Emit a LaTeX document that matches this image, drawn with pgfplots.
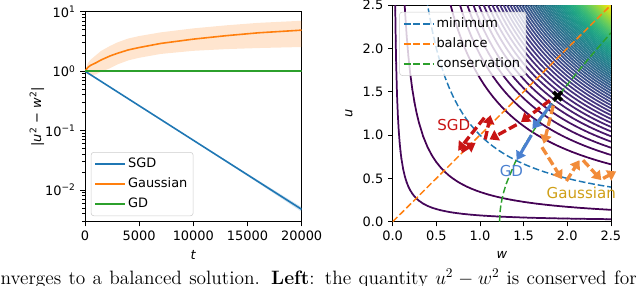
\documentclass[border=0pt]{standalone}
\usepackage{fontspec}
\setsansfont{DejaVu Sans}
\usepackage{pgfplots}
\pgfplotsset{compat=1.18}
\usepackage{pgfplotstable}
\usepgfplotslibrary{fillbetween}
\usetikzlibrary{arrows.meta}
\definecolor{mblue}{HTML}{1F77B4}
\definecolor{morange}{HTML}{FF7F0E}
\definecolor{mgreen}{HTML}{2CA02C}
\definecolor{sgdred}{HTML}{C81414}
\definecolor{gdblue}{HTML}{4A80D0}
\definecolor{gaorange}{HTML}{F28C3A}
\definecolor{galabel}{HTML}{CF9F17}
\definecolor{legframe}{HTML}{CCCCCC}
\newcommand\tf{\fontsize{9.7}{11.6}\selectfont\sffamily}
\newcommand\lf{\fontsize{11.3}{13.5}\selectfont\sffamily}

\pgfplotstableread{
t mean up lo sgd
0 1.00 1.00 1.00 1.0
250 1.15 1.35 0.88 0.9353
500 1.25 1.55 0.85 0.8747
1000 1.38 1.85 0.88 0.7653
1500 1.55 2.20 0.98 0.6693
2300 1.80 2.65 1.12 0.5403
3000 2.00 3.05 1.30 0.4479
4000 2.28 3.55 1.52 0.3428
5000 2.50 3.90 1.68 0.2622
7000 2.93 4.50 1.95 0.1536
10000 3.46 5.25 2.20 0.06879
13000 3.95 5.90 2.35 0.03082
16000 4.42 6.50 2.45 0.01380
20000 4.90 7.05 2.55 0.004732
}\lefttab

\pgfplotstableread{
t up lo
10000 0.0695 0.0681
13000 0.0318 0.0299
16000 0.01450 0.01311
20000 0.00516 0.00431
}\sgdband

\pgfplotstableread{
w v
0.025 40
0.03 33.333
0.035 28.571
0.04 25
0.05 20
0.06 16.667
0.07 14.286
0.08 12.5
0.09 11.111
0.1 10
0.12 8.3333
0.14 7.1429
0.16 6.25
0.18 5.5556
0.2 5
0.225 4.4444
0.25 4
0.275 3.6364
0.3 3.3333
0.35 2.8571
0.4 2.5
0.45 2.2222
0.5 2
0.55 1.8182
0.6 1.6667
0.65 1.5385
0.7 1.4286
0.75 1.3333
0.8 1.25
0.85 1.1765
0.9 1.1111
0.95 1.0526
1.0 1
1.05 0.95238
1.1 0.90909
1.15 0.86957
1.2 0.83333
1.25 0.8
1.3 0.76923
1.35 0.74074
1.4 0.71429
1.45 0.68966
1.5 0.66667
1.55 0.64516
1.6 0.625
1.65 0.60606
1.7 0.58824
1.75 0.57143
1.8 0.55556
1.85 0.54054
1.9 0.52632
1.95 0.51282
2.0 0.5
2.05 0.48780
2.1 0.47619
2.15 0.46512
2.2 0.45455
2.25 0.44444
2.3 0.43478
2.35 0.42553
2.4 0.41667
2.45 0.40816
2.5 0.4
}\hyp

\pgfplotstableread{
w u
1.2247 0
1.23 0.114
1.24 0.194
1.25 0.25
1.27 0.336
1.3 0.436
1.4 0.678
1.5 0.866
1.6 1.030
1.7 1.179
1.8 1.319
1.9 1.453
2.0 1.581
2.1 1.706
2.2 1.828
2.3 1.947
2.4 2.064
2.5 2.179
}\cons

\begin{document}
\begin{tikzpicture}
\pgfplotsset{
  every axis/.append style={font=\tf},
  tick label style={font=\tf},
  /pgf/number format/assume math mode=true,
  axis line style={line width=0.6pt},
  every tick/.style={black, line width=0.6pt},
  major tick length=3.5pt, minor tick length=2pt,
  tick align=outside,
  legend image code/.code={\draw[#1, draw opacity=1, line width=1.4pt] (0pt,0pt) -- (22pt,0pt);},
}
% ---------- left ----------
\begin{axis}[
  at={(63.75pt,-166.3pt)}, anchor=south west, scale only axis,
  width=162.5pt, height=157.5pt,
  ymode=log, xmin=0, xmax=20000, ymin=0.00293, ymax=10,
  xtick={0,5000,10000,15000,20000},
  scaled x ticks=false,
  x tick label style={/pgf/number format/1000 sep={}},
  ytick={0.01,0.1,1,10},
  yticklabels={10\textsuperscript{−2},10\textsuperscript{−1},10\textsuperscript{0},10\textsuperscript{1}},
  minor ytick={0.003,0.004,0.005,0.006,0.007,0.008,0.009,0.02,0.03,0.04,0.05,0.06,0.07,0.08,0.09,0.2,0.3,0.4,0.5,0.6,0.7,0.8,0.9,2,3,4,5,6,7,8,9},
  xtick pos=left, ytick pos=left,
  xlabel={\textit{t}},
  xlabel style={at={(axis description cs:0.5,-0.159)}, anchor=center},
  ylabel={|\textit{u}\textsuperscript{2} − \textit{w}\textsuperscript{2}|},
  ylabel style={at={(axis description cs:-0.222,0.5)}, anchor=center},
  legend style={at={(0.027,0.027)}, anchor=south west, font=\tf,
    draw=legframe, fill=white, fill opacity=0.8, text opacity=1, draw opacity=1,
    rounded corners=2pt, inner sep=2.5pt, row sep=2.4pt,
    nodes={inner sep=1.8pt, text height=7pt, text depth=2pt}},
  legend cell align=left,
]
\addplot[name path=gu, draw=none, forget plot] table[x=t, y=up]{\lefttab};
\addplot[name path=gl, draw=none, forget plot] table[x=t, y=lo]{\lefttab};
\addplot[morange, fill opacity=0.2, draw=none, forget plot] fill between[of=gu and gl];
\addplot[name path=su, draw=none, forget plot] table[x=t, y=up]{\sgdband};
\addplot[name path=sl, draw=none, forget plot] table[x=t, y=lo]{\sgdband};
\addplot[mblue, fill opacity=0.2, draw=none, forget plot] fill between[of=su and sl];
\addplot[mblue, line width=1.2pt] table[x=t, y=sgd]{\lefttab};
\addlegendentry{SGD}
\addplot[morange, line width=1.2pt] table[x=t, y=mean]{\lefttab};
\addlegendentry{Gaussian}
\addplot[mgreen, line width=1.2pt] coordinates {(0,1) (20000,1)};
\addlegendentry{GD}
\end{axis}
% ---------- right ----------
\begin{axis}[
  at={(294.5pt,-166.3pt)}, anchor=south west, scale only axis,
  width=163.7pt, height=162.5pt,
  xmin=0, xmax=2.5, ymin=0, ymax=2.5,
  xtick={0,0.5,1,1.5,2,2.5}, ytick={0,0.5,1,1.5,2,2.5},
  xticklabel style={/pgf/number format/.cd, fixed, fixed zerofill, precision=1},
  yticklabel style={/pgf/number format/.cd, fixed, fixed zerofill, precision=1},
  xtick pos=left, ytick pos=left,
  colormap/viridis, point meta min=0.43, point meta max=27.52,
  xlabel={\textit{w}},
  xlabel style={at={(axis description cs:0.5,-0.154)}, anchor=center},
  ylabel={\textit{u}},
  ylabel style={at={(axis description cs:-0.2,0.5)}, anchor=center},
  legend style={at={(0.0305,0.969)}, anchor=north west, font=\tf,
    draw=legframe, fill=white, fill opacity=0.8, text opacity=1, draw opacity=1,
    rounded corners=2pt, inner sep=2.5pt, row sep=2.4pt,
    nodes={inner sep=1.8pt, text height=7pt, text depth=2pt}},
  legend cell align=left,
]
\pgfplotsinvokeforeach{0.073,0.344,1.656,1.927,2.136,2.311,2.466,2.606,2.735,2.855,2.967,3.074,3.175,3.272,3.364,3.454,3.540,3.623,3.704,3.782,3.858,3.933,4.005,4.076,4.145,4.212,4.279,4.344,4.407,4.470,4.531,4.592,4.651,4.709,4.767,4.824,4.879,4.934,4.989,5.042,5.095,5.147,5.199,5.250,5.300,5.350,5.399,5.447,5.496,5.543,5.590,5.637,5.683,5.729,5.774,5.819,5.863,5.907,5.951,5.994,6.037,6.079,6.122,6.163,6.205,6.246}{
  \addplot[mesh, line width=1.3pt, line cap=round, point meta={(#1-1)*(#1-1)}, forget plot]
    table[x=w, y expr={#1*\thisrow{v}}]{\hyp};
}
\addplot[mblue, line width=1.1pt, dash pattern=on 5pt off 2.2pt] table[x=w, y=v]{\hyp};
\addlegendentry{minimum}
\addplot[morange, line width=1.1pt, dash pattern=on 5pt off 2.2pt] coordinates {(0,0) (2.5,2.5)};
\addlegendentry{balance}
\addplot[mgreen, line width=1.1pt, dash pattern=on 5pt off 2.2pt] table[x=w, y=u]{\cons};
\addlegendentry{conservation}
\end{axis}
% ---------- overlay: trajectories ----------
\begin{axis}[
  at={(294.5pt,-166.3pt)}, anchor=south west, scale only axis,
  width=163.7pt, height=162.5pt,
  xmin=0, xmax=2.5, ymin=0, ymax=2.5, hide axis, clip=false,
]
\pgfplotsset{
  sgdarr/.style={sgdred, line width=2.5pt, dash pattern=on 6.5pt off 2.6pt, -{Triangle[length=6.5pt,width=8.5pt]}},
  gdarr/.style={gdblue, line width=2.3pt, -{Triangle[length=6.5pt,width=8pt]}},
  gaarr/.style={gaorange, line width=2.5pt, dash pattern=on 6.5pt off 2.6pt, -{Triangle[length=6.5pt,width=8.5pt]}},
}
\addplot[sgdarr] coordinates {(1.80,1.40) (1.47,1.15)};
\addplot[sgdarr] coordinates {(1.42,1.12) (1.11,0.95)};
\addplot[sgdarr] coordinates {(1.06,0.95) (1.12,1.23)};
\addplot[sgdarr] coordinates {(1.05,1.20) (0.75,0.82)};
\addplot[sgdarr] coordinates {(0.79,0.81) (0.95,0.91)};
\addplot[gdarr] coordinates {(1.82,1.36) (1.60,1.07)};
\addplot[gdarr] coordinates {(1.59,1.00) (1.42,0.71)};
\addplot[gaarr] coordinates {(1.84,1.34) (1.73,0.90)};
\addplot[gaarr] coordinates {(1.71,0.86) (1.94,0.49)};
\addplot[gaarr] coordinates {(1.99,0.47) (2.14,0.71)};
\addplot[gaarr] coordinates {(2.18,0.71) (2.39,0.48)};
\addplot[gaarr] coordinates {(2.41,0.50) (2.56,0.58)};
\addplot[black, only marks, mark=x, mark size=4.5pt, line width=2.8pt] coordinates {(1.89,1.45)};
\node[text=sgdred, font=\lf] at (axis cs:0.70,1.12) {SGD};
\node[text=gdblue, font=\lf] at (axis cs:1.36,0.58) {GD};
\node[text=galabel, font=\lf] at (axis cs:2.16,0.33) {Gaussian};
\end{axis}
\node[anchor=base west, inner sep=0pt, font=\rmfamily\fontsize{14.5}{17}\selectfont] at (0.3pt,-213.2pt)
  {\makebox[477pt][s]{nverges to a balanced solution. \textbf{Left}: the quantity $u^2-w^2$ is conserved for}};
\pgfresetboundingbox
\useasboundingbox (0,0) rectangle (480pt,-214.5pt);
\end{tikzpicture}
\end{document}
